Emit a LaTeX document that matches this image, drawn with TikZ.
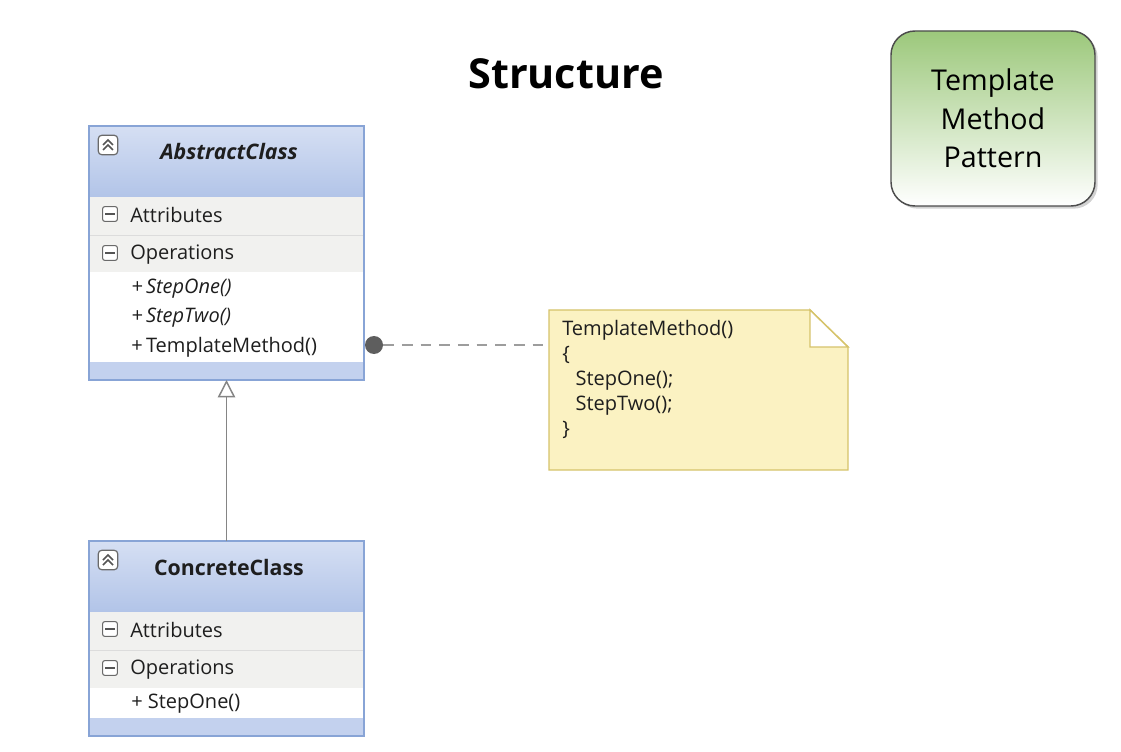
\documentclass[tikz,border=0pt]{standalone}
\usepackage{fontspec}
\setmainfont{Open Sans}
\usetikzlibrary{arrows.meta,shadows}
\definecolor{hdtop}{HTML}{D5DFF3}
\definecolor{hdbot}{HTML}{B2C4E8}
\definecolor{barc}{HTML}{C3D1EE}
\definecolor{borderc}{HTML}{88A4D6}
\definecolor{rowbg}{HTML}{F1F1EF}
\definecolor{rowline}{HTML}{DCDCDC}
\definecolor{notefill}{HTML}{FBF2C2}
\definecolor{noteline}{HTML}{D6C36A}
\definecolor{tmgreen}{HTML}{9CC87B}
\definecolor{tmmid}{HTML}{D9EBCB}
\definecolor{txt}{HTML}{1E1E1E}
\definecolor{linegray}{HTML}{858585}
\definecolor{dotgray}{HTML}{5E5E5E}
\definecolor{icongray}{HTML}{6A6A6A}
\tikzset{
  classbox/.style={draw=borderc, line width=1.2pt, inner sep=0pt, outer sep=0pt,
    minimum width=206.25pt, anchor=north west},
  rowtxt/.style={anchor=west, inner sep=0pt, text=txt, font=\fontsize{15}{18}\selectfont},
  nametxt/.style={inner sep=0pt, text=txt, font=\fontsize{16}{19}\selectfont\bfseries},
  minusicon/.style={draw=icongray, fill=white, rounded corners=1.5pt, line width=0.8pt,
    minimum size=11pt, inner sep=0pt},
  collicon/.style={draw=icongray, fill=white, rounded corners=2.5pt, line width=0.9pt,
    minimum size=14.5pt, inner sep=0pt},
  iconmark/.style={draw=icongray!80!black, line width=1.1pt},
  notetxt/.style={anchor=north west, inner sep=0pt, align=left, text=txt,
    font=\fontsize{15}{18.75}\selectfont},
  tmbox/.style={draw=black!70, line width=1.1pt, rounded corners=18pt,
    minimum width=153pt, minimum height=131.25pt, inner sep=0pt, align=center,
    top color=tmgreen, middle color=tmmid, bottom color=white,
    drop shadow={shadow xshift=2pt, shadow yshift=-2pt, opacity=0.35},
    font=\fontsize{21.5}{29}\selectfont, text=black},
  grayline/.style={draw=linegray, line width=1.1pt},
  dashline/.style={draw=linegray!80, line width=1.5pt, dash pattern=on 8pt off 6pt},
}
\begin{document}
\begin{tikzpicture}[x=0.75pt,y=-0.75pt]
\useasboundingbox (0,0) rectangle (1121,752);
\fill[white] (0,0) rectangle (1121,752);

% title
\node[font=\fontsize{31}{37}\selectfont\bfseries, text=black] (title) at (566,74) {Structure};

% ---------- AbstractClass ----------
\fill[top color=hdtop, bottom color=hdbot] (89,126) rectangle (364,197);
\fill[rowbg] (89,197) rectangle (364,272);
\draw[rowline] (89,235) -- (364,235);
\fill[white] (89,272) rectangle (364,362);
\fill[barc] (89,362) rectangle (364,380);
\node[classbox, minimum height=190.5pt] (abs) at (89,126) {};

\node[collicon] (ic1) at (108,145) {};
\draw[iconmark] ([shift={(-5,0)}]ic1.center) -- ++(5,-5) -- ++(5,5);
\draw[iconmark] ([shift={(-5,5)}]ic1.center) -- ++(5,-5) -- ++(5,5);
\node[nametxt, font=\fontsize{16}{19}\selectfont\bfseries\itshape] (absname) at (229,152) {AbstractClass};

\node[minusicon] (ia1) at (110,214) {};
\draw[iconmark] ([xshift=-3.5pt]ia1.center) -- ([xshift=3.5pt]ia1.center);
\node[rowtxt] (absattr) at (130,215) {Attributes};
\node[minusicon] (ia2) at (110,253) {};
\draw[iconmark] ([xshift=-3.5pt]ia2.center) -- ([xshift=3.5pt]ia2.center);
\node[rowtxt] (absops) at (130,255) {Operations};

\node[rowtxt, font=\fontsize{15}{18}\selectfont\itshape] (m1) at (131,289) {+\,StepOne()};
\node[rowtxt, font=\fontsize{15}{18}\selectfont\itshape] (m2) at (131,318) {+\,StepTwo()};
\node[rowtxt] (m3) at (131,347) {+\,TemplateMethod()};

% ---------- ConcreteClass ----------
\fill[top color=hdtop, bottom color=hdbot] (89,541) rectangle (364,612);
\fill[rowbg] (89,612) rectangle (364,688);
\draw[rowline] (89,650) -- (364,650);
\fill[white] (89,688) rectangle (364,718);
\fill[barc] (89,718) rectangle (364,736);
\node[classbox, minimum height=146.25pt] (conc) at (89,541) {};

\node[collicon] (ic2) at (108,560) {};
\draw[iconmark] ([shift={(-5,0)}]ic2.center) -- ++(5,-5) -- ++(5,5);
\draw[iconmark] ([shift={(-5,5)}]ic2.center) -- ++(5,-5) -- ++(5,5);
\node[nametxt] (concname) at (229,567) {ConcreteClass};

\node[minusicon] (ib1) at (110,629) {};
\draw[iconmark] ([xshift=-3.5pt]ib1.center) -- ([xshift=3.5pt]ib1.center);
\node[rowtxt] (concattr) at (130,630) {Attributes};
\node[minusicon] (ib2) at (110,668) {};
\draw[iconmark] ([xshift=-3.5pt]ib2.center) -- ([xshift=3.5pt]ib2.center);
\node[rowtxt] (concops) at (130,670) {Operations};
\node[rowtxt] (c1) at (131,704) {+ StepOne()};

% inheritance
\draw[grayline, -{Triangle[open, length=13pt, width=13pt, fill=white]}] (conc.north) -- (abs.south);

% ---------- note ----------
\node[minimum width=224.25pt, minimum height=120pt, anchor=north west, inner sep=0pt, outer sep=0pt] (note) at (549,310) {};
\draw[fill=notefill, draw=noteline, line width=1.1pt]
  (note.north west) -- ([xshift=-28.5pt]note.north east) -- ([yshift=-27.75pt]note.north east)
  -- (note.south east) -- (note.south west) -- cycle;
\draw[fill=white, draw=noteline, line width=1.1pt]
  ([xshift=-28.5pt]note.north east) -- ([xshift=-28.5pt,yshift=-27.75pt]note.north east)
  -- ([yshift=-27.75pt]note.north east) -- cycle;
\node[notetxt] (notetext) at (562,320) {TemplateMethod()\\\{\\\hspace*{10pt}StepOne();\\\hspace*{10pt}StepTwo();\\\}};

% dot + dashed connector
\node[circle, fill=dotgray, minimum size=13.5pt, inner sep=0pt] (dot) at (374,345) {};
\draw[dashline] (dot.east) -- (dot.east -| note.west);

% ---------- Template Method Pattern ----------
\node[tmbox] (tm) at (993,118.5) {Template\\Method\\Pattern};
\end{tikzpicture}
\end{document}
